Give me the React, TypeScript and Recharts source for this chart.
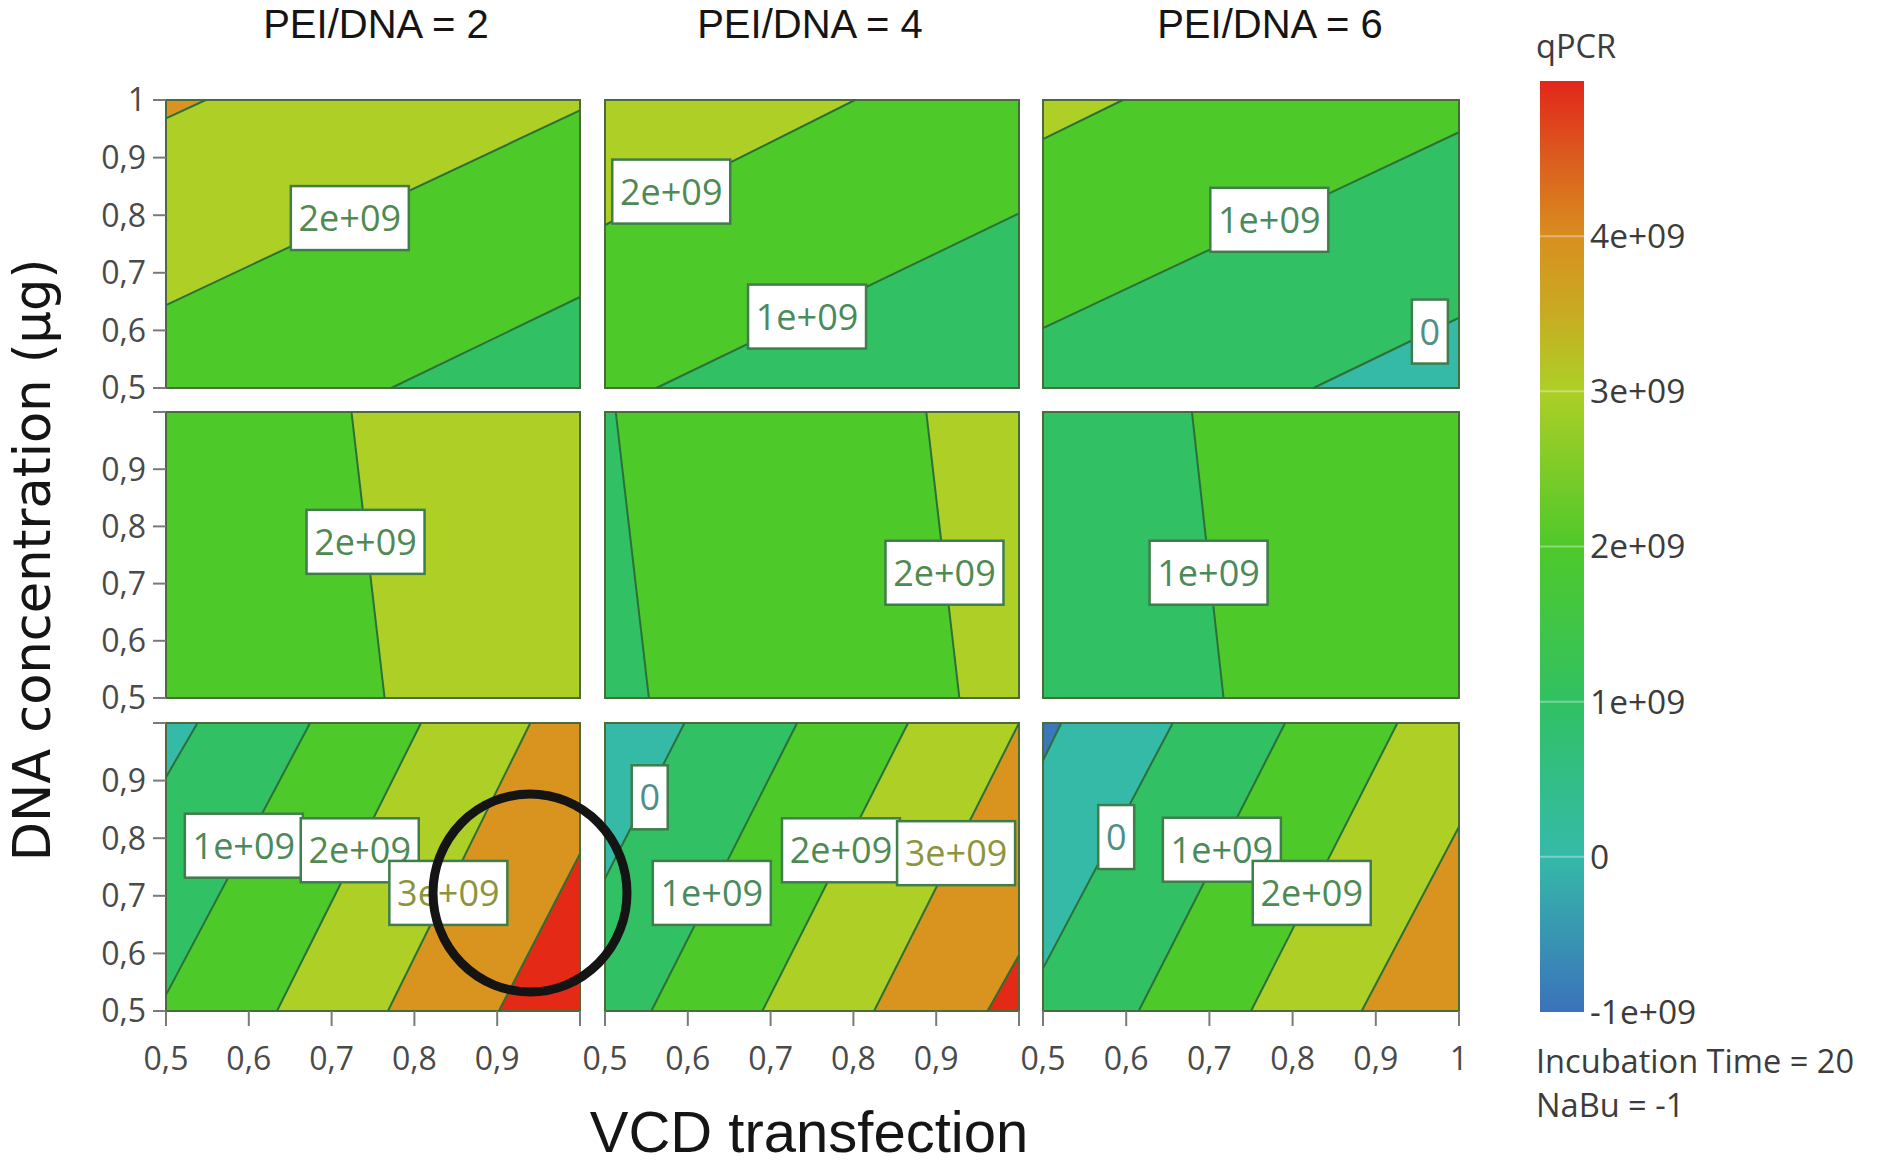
import { ComposedChart, Area, Line, Scatter, XAxis, YAxis, ReferenceArea, ReferenceLine } from 'recharts';

// contour levels: -1 is the unlabelled blue edge, then 0, 1e9, 2e9 ... band colours sit between them
const bandColors: Record<string, string> = {
  '-2': '#3b78bb',
  '-1': '#35baa8',
  '0': '#31c164',
  '1': '#4ec92a',
  '2': '#aecf26',
  '3': '#d9941f',
  '4': '#e42a17',
};
const labelColors: Record<string, string> = {
  '0': '#4f8f88',
  '1': '#4a8a5c',
  '2': '#4f8a52',
  '3': '#8c9440',
};

type Contour = { level: number; from: number[]; to: number[] };
type Tag = { level: number; x: number; y: number; text: string };

const topLeftContours: Contour[] = [
  { level: 1, from: [0.772, 0.5], to: [1, 0.658] },
  { level: 2, from: [0.5, 0.644], to: [1, 0.982] },
  { level: 3, from: [0.5, 0.968], to: [0.548, 1] },
];
const topMidContours: Contour[] = [
  { level: 1, from: [0.562, 0.5], to: [1, 0.803] },
  { level: 2, from: [0.5, 0.783], to: [0.802, 1] },
];
const topRightContours: Contour[] = [
  { level: 0, from: [0.825, 0.5], to: [1, 0.622] },
  { level: 1, from: [0.5, 0.604], to: [1, 0.944] },
  { level: 2, from: [0.5, 0.932], to: [0.596, 1] },
];
const midLeftContours: Contour[] = [{ level: 2, from: [0.724, 1], to: [0.764, 0.5] }];
const midMidContours: Contour[] = [
  { level: 1, from: [0.513, 1], to: [0.553, 0.5] },
  { level: 2, from: [0.888, 1], to: [0.928, 0.5] },
];
const midRightContours: Contour[] = [{ level: 1, from: [0.679, 1], to: [0.717, 0.5] }];
const lowLeftContours: Contour[] = [
  { level: 0, from: [0.5, 0.906], to: [0.538, 1] },
  { level: 1, from: [0.5, 0.528], to: [0.674, 1] },
  { level: 2, from: [0.634, 0.5], to: [0.808, 1] },
  { level: 3, from: [0.768, 0.5], to: [0.94, 1] },
  { level: 4, from: [0.902, 0.5], to: [1, 0.773] },
];
const lowMidContours: Contour[] = [
  { level: 0, from: [0.5, 0.73], to: [0.596, 1] },
  { level: 1, from: [0.556, 0.5], to: [0.732, 1] },
  { level: 2, from: [0.69, 0.5], to: [0.866, 1] },
  { level: 3, from: [0.825, 0.5], to: [1, 1] },
  { level: 4, from: [0.962, 0.5], to: [1, 0.597] },
];
const lowRightContours: Contour[] = [
  { level: -1, from: [0.5, 0.935], to: [0.522, 1] },
  { level: 0, from: [0.5, 0.574], to: [0.656, 1] },
  { level: 1, from: [0.615, 0.5], to: [0.791, 1] },
  { level: 2, from: [0.75, 0.5], to: [0.926, 1] },
  { level: 3, from: [0.883, 0.5], to: [1, 0.82] },
];

const topLeftTags: Tag[] = [{ level: 2, x: 0.722, y: 0.795, text: '2e+09' }];
const topMidTags: Tag[] = [
  { level: 2, x: 0.58, y: 0.841, text: '2e+09' },
  { level: 1, x: 0.744, y: 0.624, text: '1e+09' },
];
const topRightTags: Tag[] = [
  { level: 1, x: 0.772, y: 0.792, text: '1e+09' },
  { level: 0, x: 0.965, y: 0.598, text: '0' },
];
const midLeftTags: Tag[] = [{ level: 2, x: 0.741, y: 0.773, text: '2e+09' }];
const midMidTags: Tag[] = [{ level: 2, x: 0.91, y: 0.719, text: '2e+09' }];
const midRightTags: Tag[] = [{ level: 1, x: 0.699, y: 0.719, text: '1e+09' }];
const lowLeftTags: Tag[] = [
  { level: 1, x: 0.594, y: 0.787, text: '1e+09' },
  { level: 2, x: 0.734, y: 0.779, text: '2e+09' },
  { level: 3, x: 0.841, y: 0.705, text: '3e+09' },
];
const lowMidTags: Tag[] = [
  { level: 0, x: 0.554, y: 0.871, text: '0' },
  { level: 1, x: 0.629, y: 0.705, text: '1e+09' },
  { level: 2, x: 0.785, y: 0.779, text: '2e+09' },
  { level: 3, x: 0.924, y: 0.774, text: '3e+09' },
];
const lowRightTags: Tag[] = [
  { level: 0, x: 0.588, y: 0.802, text: '0' },
  { level: 1, x: 0.715, y: 0.78, text: '1e+09' },
  { level: 2, x: 0.823, y: 0.705, text: '2e+09' },
];

const panelContours = [
  [topLeftContours, topMidContours, topRightContours],
  [midLeftContours, midMidContours, midRightContours],
  [lowLeftContours, lowMidContours, lowRightContours],
];
const panelTags = [
  [topLeftTags, topMidTags, topRightTags],
  [midLeftTags, midMidTags, midRightTags],
  [lowLeftTags, lowMidTags, lowRightTags],
];

const axisTicks = [0.5, 0.6, 0.7, 0.8, 0.9, 1];
const columnTitles = ['PEI/DNA = 2', 'PEI/DNA = 4', 'PEI/DNA = 6'];
const scaleTicks = [-1e9, 0, 1e9, 2e9, 3e9, 4e9];
const scaleLabels = ['-1e+09', '0', '1e+09', '2e+09', '3e+09', '4e+09'];
const scaleTop = 5e9;
const gradientStops = [
  { at: 0, color: '#e2261a' },
  { at: 0.08, color: '#dc5a1e' },
  { at: 0.17, color: '#d8901f' },
  { at: 0.25, color: '#c8ab22' },
  { at: 0.33, color: '#aecf26' },
  { at: 0.42, color: '#7ccb28' },
  { at: 0.5, color: '#4ec92a' },
  { at: 0.67, color: '#31c164' },
  { at: 0.83, color: '#35baa8' },
  { at: 1, color: '#3b72bb' },
];

const colLeft = [166, 605, 1043];
const colWidth = [414, 414, 416];
const rowTop = [100, 412, 723];
const rowHeight = [288, 286, 288];
const titleCenter = [376, 810, 1270];
const M = { top: 26, right: 34, bottom: 26, left: 34 };
const Y_W = 64;
const X_H = 90;
const tickFont = { fontFamily: '"Open Sans", sans-serif', fontSize: 32, fill: '#4a4a4a' };

const commaTick = (v: number) => String(v).replace('.', ',');

// fill everything on the "high" side of a contour, painted lowest level first
function contourRegion(c: Contour, side: 'left' | 'right') {
  const [x0, y0] = c.from;
  const [x1, y1] = c.to;
  if (side === 'left') {
    const pts = [
      { x: x0, range: [y0, 1] },
      { x: x1, range: [y1, 1] },
    ];
    return x0 > 0.5 ? [{ x: 0.5, range: [0.5, 1] }, ...pts] : pts;
  }
  const pts =
    y1 < y0
      ? [
          { x: x0, range: [y0, 1] },
          { x: x1, range: [y1, 1] },
        ]
      : [
          { x: x0, range: [0.5, y0] },
          { x: x1, range: [0.5, y1] },
        ];
  return x1 < 1 ? [...pts, { x: 1, range: [0.5, 1] }] : pts;
}

function TagBox(props: any) {
  const { cx, cy, payload } = props;
  const w = payload.text === '0' ? 36 : 118;
  const h = 64;
  return (
    <g>
      <rect x={cx - w / 2} y={cy - h / 2} width={w} height={h} fill="#ffffff" stroke="#3f7d4a" strokeWidth={2.5} />
      <text
        x={cx}
        y={cy + 13}
        textAnchor="middle"
        fontFamily='"Open Sans", sans-serif'
        fontSize={36}
        fill={labelColors[String(payload.level)]}
      >
        {payload.text}
      </text>
    </g>
  );
}

function Panel({ row, col }: { row: number; col: number }) {
  const contours = panelContours[row][col];
  const tags = panelTags[row][col];
  const side = row === 0 ? 'left' : 'right';
  const showX = row === 2;
  const showY = col === 0;
  const width = colWidth[col] + M.left + M.right + (showY ? Y_W : 0);
  const height = rowHeight[row] + M.top + M.bottom + (showX ? X_H : 0);
  const baseColor = bandColors[String(contours[0].level - 1)];
  const baseRegion = [
    { x: 0.5, range: [0.5, 1] },
    { x: 1, range: [0.5, 1] },
  ];
  return (
    <div
      style={{
        position: 'absolute',
        left: colLeft[col] - M.left - (showY ? Y_W : 0),
        top: rowTop[row] - M.top,
      }}
    >
      <ComposedChart width={width} height={height} margin={M}>
        <XAxis
          dataKey="x"
          type="number"
          domain={[0.5, 1]}
          ticks={axisTicks}
          hide={!showX}
          height={X_H}
          tickSize={15}
          tickMargin={21}
          interval={0}
          tick={tickFont}
          tickLine={{ stroke: '#7a7a7a', strokeWidth: 2 }}
          axisLine={false}
          tickFormatter={(v: number) => (v === 1 && col < 2 ? '' : commaTick(v))}
        />
        <YAxis
          dataKey="y"
          type="number"
          domain={[0.5, 1]}
          ticks={axisTicks}
          hide={!showY}
          width={Y_W}
          tickSize={13}
          tickMargin={7}
          interval={0}
          tick={tickFont}
          tickLine={{ stroke: '#7a7a7a', strokeWidth: 2 }}
          axisLine={false}
          tickFormatter={(v: number) => (v === 1 && row > 0 ? '' : commaTick(v))}
        />
        <Area data={baseRegion} dataKey="range" type="linear" fill={baseColor} fillOpacity={1} stroke="none" isAnimationActive={false} />
        {contours.map((c) => (
          <Area
            key={`fill${c.level}`}
            data={contourRegion(c, side)}
            dataKey="range"
            type="linear"
            fill={bandColors[String(c.level)]}
            fillOpacity={1}
            stroke="none"
            isAnimationActive={false}
          />
        ))}
        {contours.map((c) => (
          <Line
            key={`line${c.level}`}
            data={[
              { x: c.from[0], y: c.from[1] },
              { x: c.to[0], y: c.to[1] },
            ]}
            dataKey="y"
            type="linear"
            stroke="#2b7038"
            strokeWidth={2}
            dot={false}
            activeDot={false}
            isAnimationActive={false}
          />
        ))}
        <ReferenceArea x1={0.5} x2={1} y1={0.5} y2={1} fill="none" stroke="#4c6b3c" strokeWidth={2} ifOverflow="visible" />
        <Scatter data={tags} dataKey="y" shape={TagBox} isAnimationActive={false} />
      </ComposedChart>
    </div>
  );
}

function ColorScale() {
  const chartData = [
    { x: 0, band: [scaleTicks[0], scaleTop] },
    { x: 1, band: [scaleTicks[0], scaleTop] },
  ];
  return (
    <div style={{ position: 'absolute', left: 1530, top: 71 }}>
      <ComposedChart width={200} height={965} data={chartData} margin={{ top: 10, right: 0, bottom: 24, left: 10 }}>
        <defs>
          <linearGradient id="scaleGradient" x1="0" y1="0" x2="0" y2="1">
            {gradientStops.map((s) => (
              <stop key={s.at} offset={s.at} stopColor={s.color} />
            ))}
          </linearGradient>
        </defs>
        <XAxis dataKey="x" type="number" domain={[0, 1]} hide />
        <YAxis
          orientation="right"
          type="number"
          domain={[scaleTicks[0], scaleTop]}
          ticks={scaleTicks}
          width={146}
          tickSize={0}
          tickMargin={6}
          interval={0}
          axisLine={false}
          tickLine={false}
          tick={{ ...tickFont, fontSize: 33.5, fill: '#3c3c3c' }}
          tickFormatter={(v: number) => scaleLabels[scaleTicks.indexOf(v)]}
        />
        <Area dataKey="band" type="linear" fill="url(#scaleGradient)" fillOpacity={1} stroke="none" isAnimationActive={false} />
        {scaleTicks.slice(1).map((t) => (
          <ReferenceLine key={t} y={t} stroke="#ffffff" strokeOpacity={0.35} strokeWidth={2} />
        ))}
      </ComposedChart>
    </div>
  );
}

const captionStyle = {
  position: 'absolute' as const,
  whiteSpace: 'nowrap' as const,
  color: '#3c3c3c',
  lineHeight: 1,
  fontFamily: '"Open Sans", sans-serif',
  fontSize: 32.6,
};

export default function App() {
  return (
    <div style={{ position: 'absolute', left: 0, top: 0, width: 1880, height: 1166, background: '#ffffff', overflow: 'hidden' }}>
      {panelContours.map((cols, row) => cols.map((_, col) => <Panel key={`${row}-${col}`} row={row} col={col} />))}
      <ColorScale />

      <div style={{ ...captionStyle, left: 1536, top: 30 }}>qPCR</div>
      <div style={{ ...captionStyle, left: 1536, top: 1045 }}>Incubation Time = 20</div>
      <div style={{ ...captionStyle, left: 1536, top: 1089 }}>NaBu = -1</div>

      <svg width={1880} height={1166} style={{ position: 'absolute', left: 0, top: 0, pointerEvents: 'none' }}>
        {columnTitles.map((t, i) => (
          <text key={t} x={titleCenter[i]} y={38} textAnchor="middle" fontFamily='"Liberation Sans", sans-serif' fontSize={40} fill="#151515">
            {t}
          </text>
        ))}
        <text x={809} y={1152} textAnchor="middle" fontFamily='"Liberation Sans", sans-serif' fontSize={58} fill="#151515">
          VCD transfection
        </text>
        <text
          x={50}
          y={560}
          textAnchor="middle"
          transform="rotate(-90 50 560)"
          fontFamily='"DejaVu Sans", sans-serif'
          fontSize={51}
          fill="#151515"
        >
          DNA concentration (µg)
        </text>
        <ellipse cx={530} cy={893} rx={97} ry={99} fill="none" stroke="#141414" strokeWidth={9} />
      </svg>
    </div>
  );
}
